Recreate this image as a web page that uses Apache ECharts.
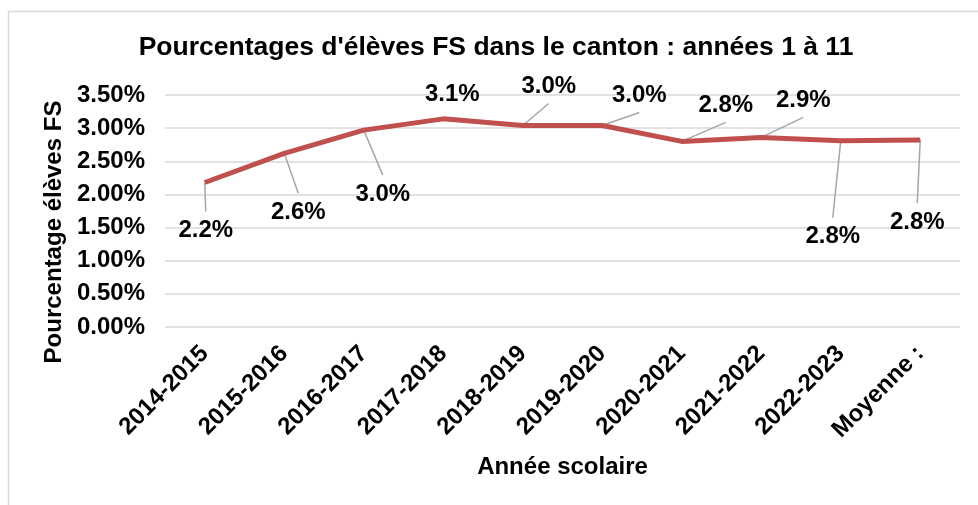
<!DOCTYPE html>
<html>
<head>
    <meta charset="utf-8">
    <title>Pourcentages d'élèves FS</title>
    <script src="https://cdn.jsdelivr.net/npm/echarts@6/dist/echarts.min.js"></script>
    <style>
        html, body { margin: 0; padding: 0; background: #fff; }
        #chart { width: 978px; height: 505px; }
    </style>
</head>
<body>
<div id="chart"></div>
<script>
    var annees = ['2014-2015', '2015-2016', '2016-2017', '2017-2018', '2018-2019',
        '2019-2020', '2020-2021', '2021-2022', '2022-2023', 'Moyenne :'];
    var pourcentages = [2.18, 2.62, 2.97, 3.14, 3.04, 3.04, 2.80, 2.86, 2.81, 2.82];
    var yTicks = ['0.00%', '0.50%', '1.00%', '1.50%', '2.00%', '2.50%', '3.00%', '3.50%'];

    // position des étiquettes par rapport au point (px), et trait de rappel oui/non
    var etiquettes = [[1, 47, true], [14, 58, true], [19, 63, true], [9, -25, false], [26, -40, true],
        [37, -31, true], [44, -37, true], [42, -38, true], [-8, 95, true], [-3, 81, true]];

    var police = '"Liberation Sans", Arial, sans-serif';
    var chart = echarts.init(document.getElementById('chart'));

    function renderEtiquette(params, api) {
        var i = params.dataIndex;
        var p = api.coord([api.value(0), api.value(1)]);
        var o = etiquettes[i];
        var tx = p[0] + o[0];
        var ty = p[1] + o[1];
        var enfants = [];
        if (o[2]) {
            // le trait s'arrête à ~18px du centre du texte
            enfants.push({
                type: 'line',
                shape: { x1: p[0], y1: p[1], x2: tx, y2: ty + (o[1] > 0 ? -18 : 18) },
                style: { stroke: '#a6a6a6', lineWidth: 1.5 }
            });
        }
        enfants.push({
            type: 'text',
            style: {
                text: api.value(1).toFixed(1) + '%',
                x: tx, y: ty + 1,
                align: 'center', verticalAlign: 'middle',
                fontFamily: police, fontSize: 24, fontWeight: 700, fill: '#000'
            }
        });
        return { type: 'group', children: enfants };
    }

    var option = {
        animation: false,
        title: {
            text: "Pourcentages d'élèves FS dans le canton : années 1 à 11",
            left: 491,
            top: 29,
            textAlign: 'center',
            textStyle: { fontFamily: police, fontSize: 26.5, fontWeight: 'bold', color: '#000' }
        },
        graphic: [{
            type: 'rect',
            shape: { x: 8.5, y: 11.5, width: 1000, height: 600 },
            style: { fill: 'none', stroke: '#d9d9d9', lineWidth: 1.5 },
            silent: true
        }],
        grid: { left: 165, right: 18, top: 95, bottom: 178 },
        xAxis: {
            type: 'category',
            data: annees,
            boundaryGap: true,
            name: 'Année scolaire',
            nameLocation: 'middle',
            nameGap: 128,
            nameTextStyle: { fontFamily: police, fontSize: 24, fontWeight: 'bold', color: '#000' },
            axisLine: { show: false },
            axisTick: { show: false },
            axisLabel: {
                rotate: 45, margin: 23, interval: 0,
                fontFamily: police, fontSize: 24, fontWeight: 'bold', color: '#000'
            }
        },
        yAxis: {
            type: 'value',
            min: 0,
            max: 3.5,
            interval: 0.5,
            name: 'Pourcentage élèves FS',
            nameLocation: 'middle',
            nameGap: 96,
            nameTextStyle: { fontFamily: police, fontSize: 24, fontWeight: 'bold', color: '#000', padding: [0, 42, 0, 0] },
            axisLine: { show: false },
            axisTick: { show: false },
            splitLine: { lineStyle: { color: '#d9d9d9', width: 1.5 } },
            axisLabel: {
                margin: 20,
                fontFamily: police, fontSize: 24, fontWeight: 'bold', color: '#000',
                formatter: function (v) { return yTicks[Math.round(v / 0.5)]; }
            }
        },
        series: [{
            type: 'line',
            data: pourcentages,
            symbol: 'none',
            lineStyle: { color: '#c0504d', width: 5 }
        }, {
            type: 'custom',
            clip: false,
            z: 3,
            data: pourcentages.map(function (v, i) { return [i, v]; }),
            renderItem: renderEtiquette
        }]
    };
    chart.setOption(option);
</script>
</body>
</html>
